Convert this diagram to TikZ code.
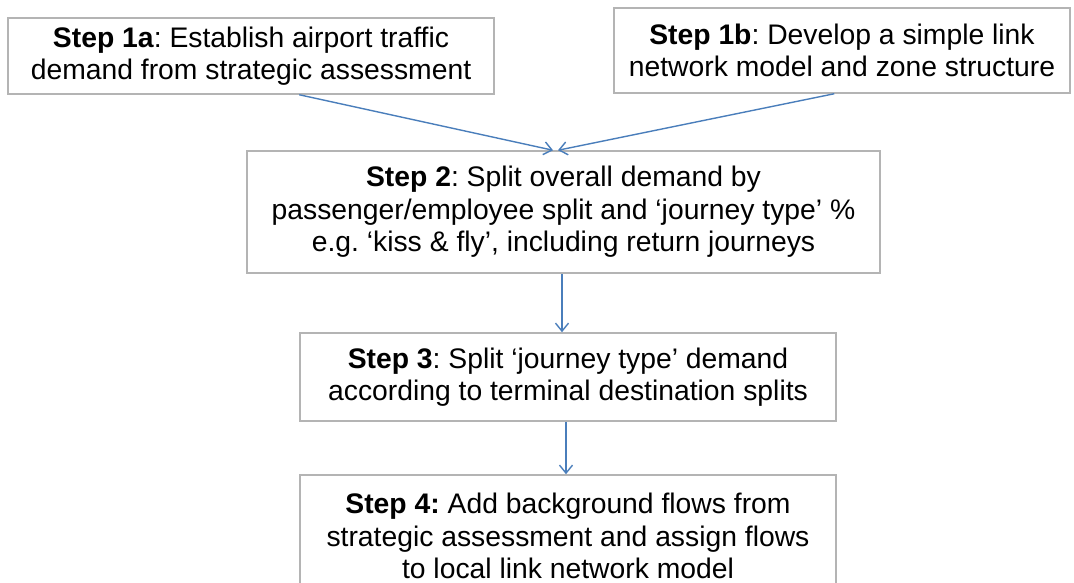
\documentclass[tikz,border=0pt]{standalone}
\usepackage{fontspec}
\setmainfont{Liberation Sans}
\usetikzlibrary{arrows.meta}
\definecolor{boxline}{HTML}{B4B4B4}
\definecolor{arrowblue}{HTML}{4A7EBB}
\frenchspacing
\begin{document}
\begin{tikzpicture}[x=1pt,y=-1pt,
  stepbox/.style={draw=boxline,line width=1.5pt,align=center,inner sep=0pt,
    font=\fontsize{28.3}{32.5}\selectfont},
  conn/.style={draw=arrowblue,line width=1.4pt,-{Straight Barb[length=8pt,width=13pt,line width=1.4pt]}}]
\useasboundingbox (0,0) rectangle (1074,583);
\clip (0,0) rectangle (1074,583);
\node[stepbox,minimum width=486pt,minimum height=76pt] (s1a) at (251,56)
  {\textbf{Step 1a}: Establish airport traffic\\demand from strategic assessment};
\node[stepbox,minimum width=456pt,minimum height=85pt] (s1b) at (842,50.5)
  {\textbf{Step 1b}: Develop a simple link\\network model and zone structure};
\node[stepbox,minimum width=633pt,minimum height=122pt] (s2) at (563.5,212)
  {\textbf{Step 2}: Split overall demand by\\passenger/employee split and ‘journey type’ \%\\e.g. ‘kiss \& fly’, including return journeys};
\node[stepbox,minimum width=536pt,minimum height=88pt] (s3) at (568,377)
  {\textbf{Step 3}: Split ‘journey type’ demand\\according to terminal destination splits};
\node[stepbox,minimum width=536pt,minimum height=122pt] (s4) at (568,536)
  {\textbf{Step 4:} Add background flows from\\strategic assessment and assign flows\\to local link network model};
\draw[conn] ([xshift=292pt]s1a.south west) -- ([xshift=-10.5pt]s2.north);
\draw[conn] ([xshift=221pt]s1b.south west) -- ([xshift=-5.5pt]s2.north);
\draw[conn] ([xshift=-1.5pt]s2.south) -- ([xshift=-6pt]s3.north);
\draw[conn] ([xshift=-2pt]s3.south) -- ([xshift=-2pt]s4.north);
\end{tikzpicture}
\end{document}
